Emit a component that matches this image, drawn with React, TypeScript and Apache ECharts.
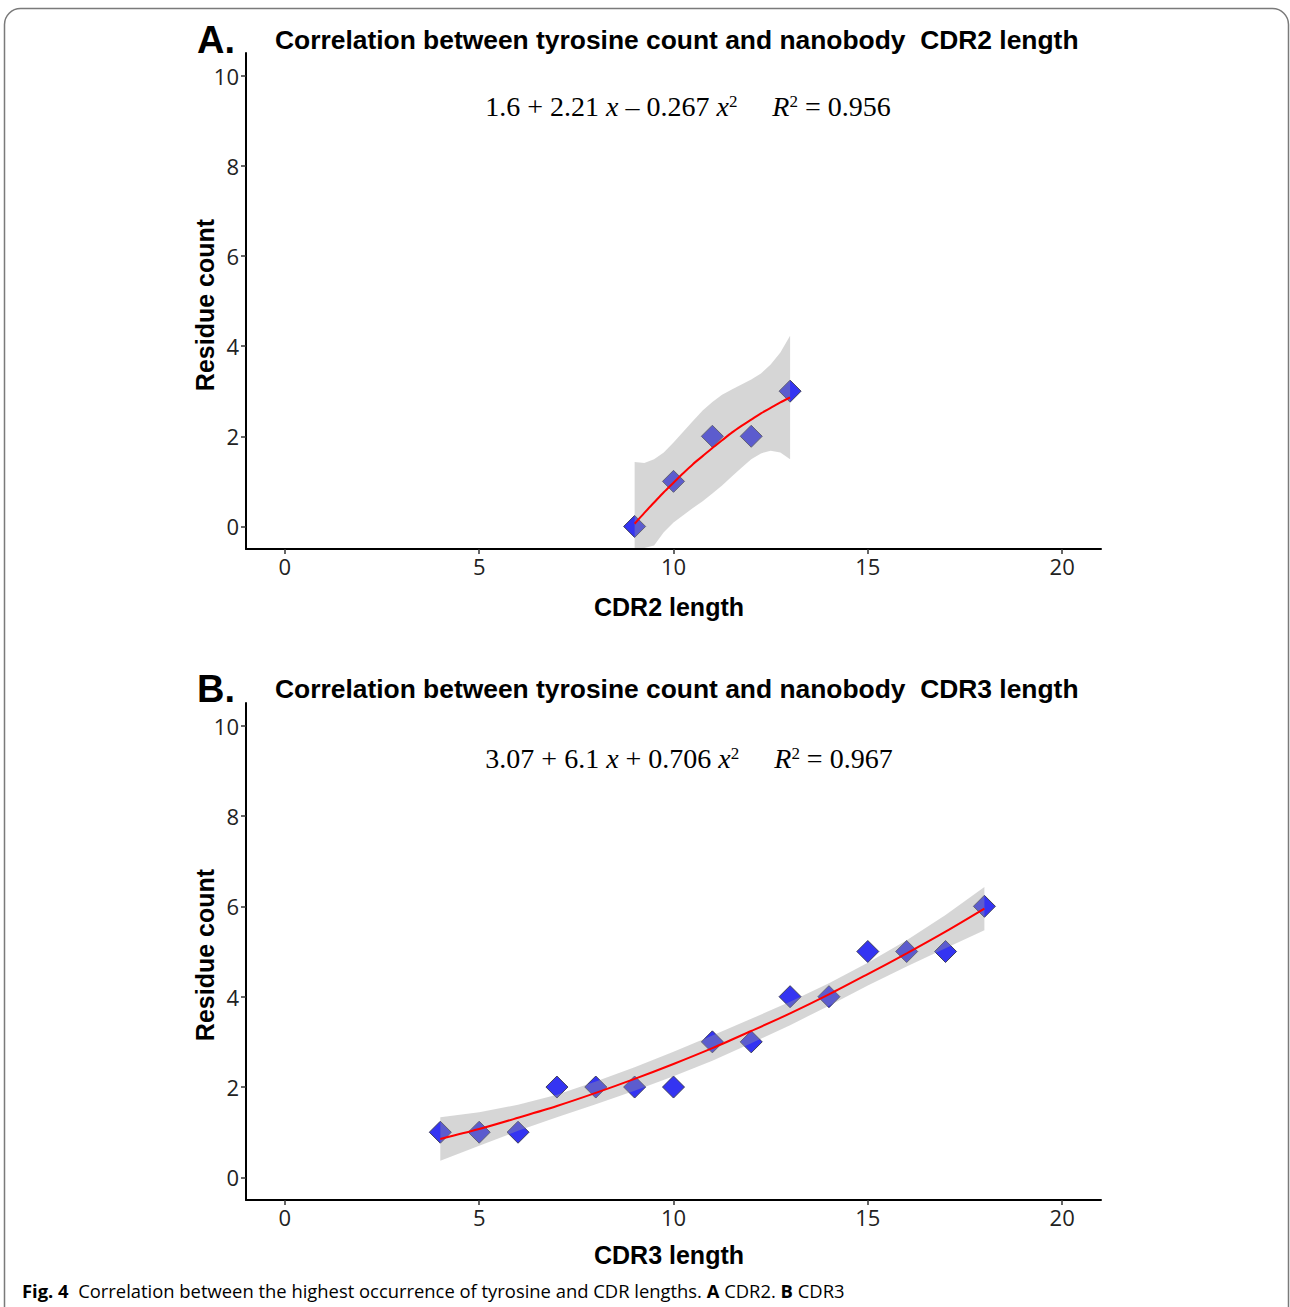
import React, { useEffect, useRef } from 'react';
import * as echarts from 'echarts';

// Axis ticks
const xTicks = [0, 5, 10, 15, 20];
const yTicks = [0, 2, 4, 6, 8, 10];

// Panel A: CDR2
const cdr2Length = [9, 10, 11, 12, 13];
const cdr2Count = [0, 1, 2, 2, 3];
const cdr2FitX = [9, 9.25, 9.5, 9.75, 10, 10.25, 10.5, 10.75, 11, 11.25, 11.5, 11.75, 12, 12.25, 12.5, 12.75, 13];
const cdr2Fit = [0.06, 0.3, 0.53, 0.76, 0.97, 1.18, 1.38, 1.56, 1.74, 1.91, 2.08, 2.23, 2.37, 2.51, 2.63, 2.75, 2.86];
const cdr2Upper = [1.43, 1.41, 1.49, 1.64, 1.86, 2.1, 2.34, 2.57, 2.76, 2.92, 3.04, 3.15, 3.26, 3.39, 3.59, 3.86, 4.23];
const cdr2Lower = [-0.48, -0.48, -0.42, -0.13, 0.09, 0.25, 0.41, 0.56, 0.73, 0.91, 1.11, 1.3, 1.49, 1.62, 1.68, 1.64, 1.49];

// Panel B: CDR3
const cdr3Length = [4, 5, 6, 7, 8, 9, 10, 11, 12, 13, 14, 15, 16, 17, 18];
const cdr3Count = [1, 1, 1, 2, 2, 2, 2, 3, 3, 4, 4, 5, 5, 5, 6];
const cdr3Fit = [0.85, 1.07, 1.32, 1.58, 1.87, 2.18, 2.51, 2.86, 3.24, 3.63, 4.05, 4.5, 4.96, 5.44, 5.95];
const cdr3Upper = [1.33, 1.44, 1.61, 1.83, 2.12, 2.44, 2.78, 3.14, 3.51, 3.89, 4.3, 4.75, 5.25, 5.81, 6.43];
const cdr3Lower = [0.37, 0.7, 1.03, 1.33, 1.62, 1.92, 2.24, 2.58, 2.97, 3.37, 3.8, 4.25, 4.67, 5.07, 5.47];

const SANS = "'Liberation Sans', Arial, sans-serif";
const TICKFONT = "'Open Sans', sans-serif";
const SERIF = "'Liberation Serif', 'Times New Roman', serif";

function makeXAxis(idx: number) {
  return {
    type: 'value',
    gridIndex: idx,
    min: -1,
    max: 21,
    splitLine: { show: false },
    axisLine: { show: true, onZero: false, lineStyle: { color: '#000', width: 2 } },
    axisTick: { show: true, customValues: xTicks, length: 5, lineStyle: { color: '#333', width: 1.5 } },
    axisLabel: { customValues: xTicks, fontFamily: TICKFONT, fontSize: 22, color: '#222', margin: 6 },
  };
}

function makeYAxis(idx: number) {
  return {
    type: 'value',
    gridIndex: idx,
    min: -0.5,
    max: 10.5,
    splitLine: { show: false },
    axisLine: { show: true, onZero: false, lineStyle: { color: '#000', width: 2 } },
    axisTick: { show: true, customValues: yTicks, length: 5, lineStyle: { color: '#333', width: 1.5 } },
    axisLabel: { customValues: yTicks, fontFamily: TICKFONT, fontSize: 22, color: '#222', margin: 7 },
  };
}

function scatterSeries(idx: number, xs: number[], ys: number[]) {
  return {
    type: 'scatter',
    xAxisIndex: idx,
    yAxisIndex: idx,
    z: 2,
    symbol: 'diamond',
    symbolSize: 22,
    data: xs.map((x, i) => [x, ys[i]]),
    itemStyle: { color: '#3434f2', opacity: 1, borderColor: '#3c3c5c', borderWidth: 1 },
  };
}

function bandSeries(idx: number, xs: number[], upper: number[], lower: number[]) {
  return {
    type: 'custom',
    xAxisIndex: idx,
    yAxisIndex: idx,
    z: 3,
    silent: true,
    data: [[xs[0], upper[0]]],
    renderItem: (_params: any, api: any) => {
      const pts: number[][] = [];
      for (let i = 0; i < xs.length; i++) pts.push(api.coord([xs[i], upper[i]]));
      for (let i = xs.length - 1; i >= 0; i--) pts.push(api.coord([xs[i], lower[i]]));
      return { type: 'polygon', shape: { points: pts }, style: { fill: 'rgba(153,153,153,0.4)' } };
    },
  };
}

function fitSeries(idx: number, xs: number[], ys: number[]) {
  return {
    type: 'line',
    xAxisIndex: idx,
    yAxisIndex: idx,
    z: 4,
    smooth: 0.3,
    showSymbol: false,
    data: xs.map((x, i) => [x, ys[i]]),
    lineStyle: { color: '#ff0000', width: 2 },
  };
}

const eqRich = {
  n: { fontFamily: SERIF, fontSize: 28, color: '#111', lineHeight: 34, verticalAlign: 'middle' },
  i: { fontFamily: SERIF, fontSize: 28, fontStyle: 'italic', color: '#111', lineHeight: 34, verticalAlign: 'middle' },
  s: { fontFamily: SERIF, fontSize: 17, color: '#111', lineHeight: 20, verticalAlign: 'middle', padding: [0, 0, 10, 0] },
};

export default function App() {
  const ref = useRef<HTMLDivElement>(null);
  useEffect(() => {
    document.body.style.margin = '0';
    const chart = echarts.init(ref.current!, null, { renderer: 'svg' });
    chart.setOption({
      animation: false,
      backgroundColor: '#fff',
      grid: [
        { left: 246, top: 53, width: 855, height: 496 },
        { left: 246, top: 703, width: 855, height: 497 },
      ],
      xAxis: [makeXAxis(0), makeXAxis(1)],
      yAxis: [makeYAxis(0), makeYAxis(1)],
      series: [
        scatterSeries(0, cdr2Length, cdr2Count),
        bandSeries(0, cdr2FitX, cdr2Upper, cdr2Lower),
        fitSeries(0, cdr2FitX, cdr2Fit),
        scatterSeries(1, cdr3Length, cdr3Count),
        bandSeries(1, cdr3Length, cdr3Upper, cdr3Lower),
        fitSeries(1, cdr3Length, cdr3Fit),
      ],
      graphic: [
        {
          type: 'rect',
          shape: { x: 4.5, y: 8.5, width: 1284, height: 1330, r: 16 },
          style: { fill: 'none', stroke: '#7a7a7a', lineWidth: 1.5 },
          silent: true,
        },
        { type: 'text', x: 197, y: 40, style: { text: 'A.', font: `bold 38px ${SANS}`, fill: '#000', verticalAlign: 'middle' } },
        { type: 'text', x: 197, y: 689, style: { text: 'B.', font: `bold 38px ${SANS}`, fill: '#000', verticalAlign: 'middle' } },
        {
          type: 'text', x: 275, y: 40,
          style: { text: 'Correlation between tyrosine count and nanobody  CDR2 length', font: `bold 26.4px ${SANS}`, fill: '#000', verticalAlign: 'middle' },
        },
        {
          type: 'text', x: 275, y: 689,
          style: { text: 'Correlation between tyrosine count and nanobody  CDR3 length', font: `bold 26.4px ${SANS}`, fill: '#000', verticalAlign: 'middle' },
        },
        {
          type: 'text', x: 688, y: 106,
          style: {
            text: '{n|1.6 + 2.21 }{i|x}{n| – 0.267 }{i|x}{s|2}{n|     }{i|R}{s|2}{n| = 0.956}',
            rich: eqRich, align: 'center', verticalAlign: 'middle',
          },
        },
        {
          type: 'text', x: 689, y: 758,
          style: {
            text: '{n|3.07 + 6.1 }{i|x}{n| + 0.706 }{i|x}{s|2}{n|     }{i|R}{s|2}{n| = 0.967}',
            rich: eqRich, align: 'center', verticalAlign: 'middle',
          },
        },
        {
          type: 'text', x: 205, y: 305, rotation: Math.PI / 2,
          style: { text: 'Residue count', font: `bold 25px ${SANS}`, fill: '#000', align: 'center', verticalAlign: 'middle' },
        },
        {
          type: 'text', x: 205, y: 955, rotation: Math.PI / 2,
          style: { text: 'Residue count', font: `bold 25px ${SANS}`, fill: '#000', align: 'center', verticalAlign: 'middle' },
        },
        {
          type: 'text', x: 669, y: 607,
          style: { text: 'CDR2 length', font: `bold 25px ${SANS}`, fill: '#000', align: 'center', verticalAlign: 'middle' },
        },
        {
          type: 'text', x: 669, y: 1255,
          style: { text: 'CDR3 length', font: `bold 25px ${SANS}`, fill: '#000', align: 'center', verticalAlign: 'middle' },
        },
        {
          type: 'text', x: 22, y: 1290,
          style: {
            text: '{b|Fig. 4}{r|  Correlation between the highest occurrence of tyrosine and CDR lengths. }{b|A}{r| CDR2. }{b|B}{r| CDR3}',
            verticalAlign: 'middle',
            rich: {
              b: { fontFamily: "'Open Sans', sans-serif", fontWeight: 'bold', fontSize: 18.4, color: '#231f20' },
              r: { fontFamily: "'Open Sans', sans-serif", fontSize: 18.4, color: '#231f20' },
            },
          },
        },
      ],
    });
    return () => chart.dispose();
  }, []);
  return <div ref={ref} style={{ width: 1290, height: 1307 }} />;
}
